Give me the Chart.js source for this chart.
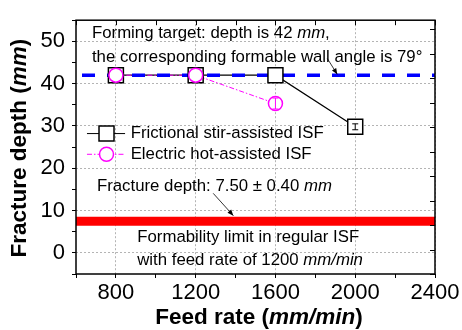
<!DOCTYPE html>
<html>
<head>
<meta charset="utf-8">
<script src="https://cdn.jsdelivr.net/npm/chart.js@4.4.1/dist/chart.umd.min.js"></script>
<style>
html,body{margin:0;padding:0;background:#fff;}
#wrap{width:462px;height:330px;position:relative;}
</style>
</head>
<body>
<div id="wrap"><canvas id="c"></canvas></div>
<script>
// ---- data ----
const feedRates = [800, 1200, 1600, 2000];
const frictionDepth = [42, 42, 42, 29.8];
const frictionErr = [0, 0, 0, 0.7];
const electricRates = [800, 1200, 1600];
const electricDepth = [42, 42, 35.3];
const electricErr = [0, 0, 1.3];
const targetDepth = 42;
const fractureDepth = 7.5;
const xRange = [600, 2400];
const yRange = [-5, 55];
const xTickLabels = [800, 1200, 1600, 2000, 2400];
const yTickLabels = [0, 10, 20, 30, 40, 50];
const seriesNames = ['Frictional stir-assisted ISF', 'Electric hot-assisted ISF'];

const FONT = "'Liberation Sans', Arial, sans-serif";
const MAGENTA = '#ff00ff';
const NOTE_SIZE = 16.8;
const TITLE_SIZE = 22.5;
const TICK_SIZE = 22;

const pts = (xs, ys) => xs.map((v, i) => ({x: v, y: ys[i]}));

// annotation texts (positions in data coordinates)
const notes = [
  {x: 680, y: 51.8, parts: [['Forming target: depth is 42 ', false], ['mm', true], [',', false]]},
  {x: 680, y: 46.2, parts: [['the corresponding formable wall angle is 79°', false]]},
  {x: 705, y: 15.8, parts: [['Fracture depth: 7.50 ± 0.40 ', false], ['mm', true]]},
  {x: 907, y: 3.73, parts: [['Formability limit in regular ISF', false]]},
  {x: 907, y: -1.67, parts: [['with feed rate of 1200 ', false], ['mm/min', true]]}
];
const arrows = [
  {x1: 1860, y1: 45.95, x2: 1910, y2: 42.2},
  {x1: 1288, y1: 14.07, x2: 1389, y2: 8.8}
];

function drawParts(ctx, parts, x, y, size, bold, align) {
  const w = parts.map(p => { ctx.font = (p[1] ? 'italic ' : '') + (bold ? 'bold ' : '') + size + 'px ' + FONT; return ctx.measureText(p[0]).width; });
  const total = w.reduce((a, b) => a + b, 0);
  let cx = align === 'center' ? x - total / 2 : x;
  ctx.textAlign = 'left';
  ctx.textBaseline = 'middle';
  parts.forEach((p, i) => {
    ctx.font = (p[1] ? 'italic ' : '') + (bold ? 'bold ' : '') + size + 'px ' + FONT;
    ctx.fillText(p[0], cx, y);
    cx += w[i];
  });
}

const overlay = {
  id: 'overlay',
  afterDatasetsDraw(chart) {
    const {ctx, chartArea: a, scales} = chart;
    const xs = scales.x, ys = scales.y, y2 = scales.y2;
    ctx.save();
    // error bars
    const errSets = [[feedRates, frictionDepth, frictionErr, '#000'], [electricRates, electricDepth, electricErr, MAGENTA]];
    errSets.forEach(([xv, yv, ev, col]) => {
      ctx.strokeStyle = col; ctx.lineWidth = 1;
      xv.forEach((v, i) => {
        if (!ev[i]) return;
        const px = xs.getPixelForValue(v);
        const p1 = ys.getPixelForValue(yv[i] - ev[i]);
        const p2 = ys.getPixelForValue(yv[i] + ev[i]);
        ctx.beginPath();
        ctx.moveTo(px, p1); ctx.lineTo(px, p2);
        ctx.moveTo(px - 3, p1); ctx.lineTo(px + 3, p1);
        ctx.moveTo(px - 3, p2); ctx.lineTo(px + 3, p2);
        ctx.stroke();
      });
    });
    // frame
    ctx.strokeStyle = '#000'; ctx.lineWidth = 1.5;
    ctx.strokeRect(a.left, a.top, a.right - a.left, a.bottom - a.top);
    // mirror ticks top
    ctx.lineWidth = 1;
    ctx.beginPath();
    xs.ticks.forEach(t => {
      const px = Math.round(xs.getPixelForValue(t.value)) + 0.5;
      ctx.moveTo(px, a.top); ctx.lineTo(px, a.top + 5);
    });
    // mirror ticks right
    for (let k = Math.ceil(y2.min); k <= y2.max; k++) {
      const py = Math.round(y2.getPixelForValue(k)) + 0.5;
      ctx.moveTo(a.right, py); ctx.lineTo(a.right - 5, py);
    }
    ctx.stroke();

    // legend
    const rows = [
      {y: 28.2, color: '#000', dash: [], shape: 'rect'},
      {y: 23.3, color: MAGENTA, dash: [5, 2, 1.5, 2], shape: 'circle'}
    ];
    rows.forEach((r, i) => {
      const py = ys.getPixelForValue(r.y);
      const l1 = xs.getPixelForValue(655), l2 = xs.getPixelForValue(846), m = xs.getPixelForValue(753);
      ctx.strokeStyle = r.color; ctx.lineWidth = 1;
      ctx.setLineDash(r.dash);
      ctx.beginPath(); ctx.moveTo(l1, py); ctx.lineTo(l2, py); ctx.stroke();
      ctx.setLineDash([]);
      ctx.fillStyle = '#fff';
      ctx.lineWidth = 1.5;
      ctx.beginPath();
      if (r.shape === 'rect') ctx.rect(m - 7.5, py - 7.5, 15, 15);
      else ctx.arc(m, py, 7, 0, Math.PI * 2);
      ctx.fill(); ctx.stroke();
      ctx.fillStyle = '#000';
      drawParts(ctx, [[seriesNames[i], false]], xs.getPixelForValue(874), py, NOTE_SIZE, false, 'left');
    });

    // annotations
    ctx.fillStyle = '#000';
    notes.forEach(n => drawParts(ctx, n.parts, xs.getPixelForValue(n.x), ys.getPixelForValue(n.y), NOTE_SIZE, false, 'left'));
    arrows.forEach(ar => {
      const x1 = xs.getPixelForValue(ar.x1), y1 = ys.getPixelForValue(ar.y1);
      const x2 = xs.getPixelForValue(ar.x2), y2p = ys.getPixelForValue(ar.y2);
      const ang = Math.atan2(y2p - y1, x2 - x1);
      ctx.strokeStyle = '#000'; ctx.lineWidth = 0.8;
      ctx.beginPath(); ctx.moveTo(x1, y1); ctx.lineTo(x2, y2p); ctx.stroke();
      ctx.beginPath();
      ctx.moveTo(x2, y2p);
      ctx.lineTo(x2 - 6 * Math.cos(ang) + 2.5 * Math.sin(ang), y2p - 6 * Math.sin(ang) - 2.5 * Math.cos(ang));
      ctx.lineTo(x2 - 6 * Math.cos(ang) - 2.5 * Math.sin(ang), y2p - 6 * Math.sin(ang) + 2.5 * Math.cos(ang));
      ctx.closePath(); ctx.fill();
    });

    // axis titles
    const cy = (a.top + a.bottom) / 2;
    ctx.save();
    ctx.translate(20, cy + 1);
    ctx.rotate(-Math.PI / 2);
    drawParts(ctx, [['Fracture depth (', false], ['mm', true], [')', false]], 0, 0, TITLE_SIZE, true, 'center');
    ctx.restore();
    drawParts(ctx, [['Feed rate (', false], ['mm/min', true], [')', false]], 259, 317.5, TITLE_SIZE, true, 'center');
    ctx.restore();
  }
};

const gridCol = (labels) => (c) => (c.tick && labels.includes(c.tick.value)) ? '#b4b4b4' : 'rgba(0,0,0,0)';

new Chart(document.getElementById('c'), {
  type: 'line',
  data: {
    datasets: [
      { // red fracture band
        data: pts(xRange, [fractureDepth, fractureDepth]),
        borderColor: '#ff0000', borderWidth: 9, borderCapStyle: 'butt', pointRadius: 0, order: 6
      },
      { // frictional line
        data: pts(feedRates, frictionDepth),
        borderColor: '#000', borderWidth: 1.2, pointRadius: 0, order: 5
      },
      { // electric line
        data: pts(electricRates, electricDepth),
        borderColor: MAGENTA, borderWidth: 1, borderDash: [5, 2, 1.5, 2], pointRadius: 0, order: 4
      },
      { // forming target
        data: pts(xRange, [targetDepth, targetDepth]),
        borderColor: '#0000ff', borderWidth: 3.5, borderDash: [13, 12], borderDashOffset: 19,
        borderCapStyle: 'butt', pointRadius: 0, order: 3
      },
      { // frictional markers
        data: pts(feedRates, frictionDepth), showLine: false,
        pointStyle: 'rect', pointRadius: 10.6, pointBorderWidth: 1.5,
        pointBackgroundColor: '#fff', pointBorderColor: '#000', order: 2
      },
      { // electric markers
        data: pts(electricRates, electricDepth), showLine: false,
        pointStyle: 'circle', pointRadius: 7, pointBorderWidth: 1.5,
        pointBackgroundColor: '#fff', pointBorderColor: MAGENTA, order: 1
      }
    ]
  },
  options: {
    responsive: true, maintainAspectRatio: false, animation: false,
    devicePixelRatio: 1,
    layout: {padding: {top: 7.5, right: 27, left: 0, bottom: 0}},
    plugins: {legend: {display: false}, tooltip: {enabled: false}},
    scales: {
      x: {
        type: 'linear', min: xRange[0], max: xRange[1],
        afterFit(s) { s.height = 56; },
        ticks: {
          stepSize: 200, autoSkip: false, maxRotation: 0, padding: 2,
          color: '#000', font: {family: FONT, size: TICK_SIZE},
          callback: v => xTickLabels.includes(v) ? String(v) : ''
        },
        grid: {color: gridCol(xTickLabels), tickColor: '#000', tickLength: 4, lineWidth: 1},
        border: {display: false, dash: [2, 2]}
      },
      y: {
        type: 'linear', min: yRange[0], max: yRange[1],
        afterFit(s) { s.width = 76; },
        ticks: {
          stepSize: 5, autoSkip: false, padding: 7,
          color: '#000', font: {family: FONT, size: TICK_SIZE},
          callback: v => yTickLabels.includes(v) ? String(v) : ''
        },
        grid: {color: gridCol(yTickLabels), tickColor: '#000', tickLength: 4, lineWidth: 1},
        border: {display: false, dash: [2, 2]}
      },
      y2: {
        type: 'linear', position: 'right', display: false, min: 0, max: 10.38,
        ticks: {stepSize: 1}
      }
    }
  },
  plugins: [overlay]
});
</script>
</body>
</html>
